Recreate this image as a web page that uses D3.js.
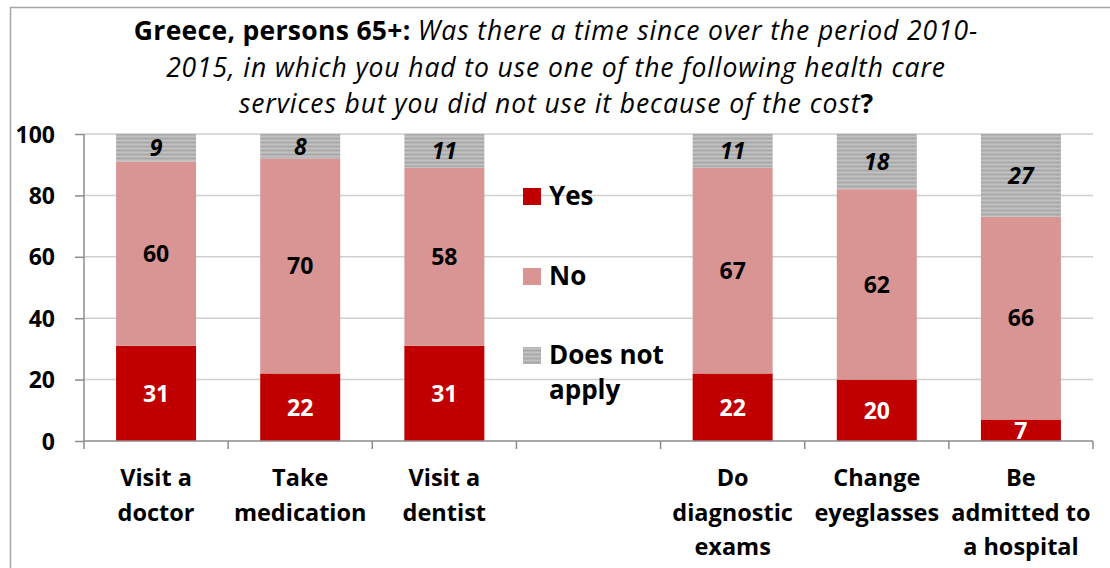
<!DOCTYPE html>
<html>
<head>
<meta charset="utf-8">
<script src="https://cdn.jsdelivr.net/npm/d3@7"></script>
<style>
  html, body { margin: 0; padding: 0; background: #fff; }
  svg { display: block; }
  text { font-family: "Open Sans", Lato, sans-serif; }
</style>
</head>
<body>
<svg id="chart" width="1110" height="568"></svg>
<script>
// Health care services (one empty slot separates the two groups)
const categories = ["Visit a doctor", "Take medication", "Visit a dentist", "",
                    "Do diagnostic exams", "Change eyeglasses", "Be admitted to a hospital"];
const categoryLines = [["Visit a", "doctor"], ["Take", "medication"], ["Visit a", "dentist"], [],
                       ["Do", "diagnostic", "exams"], ["Change", "eyeglasses"], ["Be", "admitted to", "a hospital"]];
const seriesNames = ["Yes", "No", "Does not apply"];
const yesValues = [31, 22, 31, null, 22, 20, 7];
const noValues  = [60, 70, 58, null, 67, 62, 66];
const dnaValues = [9, 8, 11, null, 11, 18, 27];
const yTicks = [0, 20, 40, 60, 80, 100];

const svg = d3.select("#chart");
const W = 1110, H = 568;

// outer frame
svg.append("rect").attr("x", 10.5).attr("y", 7.5).attr("width", W).attr("height", H)
  .attr("fill", "none").attr("stroke", "#a6a6a6").attr("stroke-width", 1.5);

// striped fill for "Does not apply"
const defs = svg.append("defs");
const pat = defs.append("pattern").attr("id", "stripes").attr("patternUnits", "userSpaceOnUse")
  .attr("width", 8).attr("height", 4);
pat.append("rect").attr("width", 8).attr("height", 4).attr("fill", "#c2c2c2");
pat.append("rect").attr("y", 1.5).attr("width", 8).attr("height", 2).attr("fill", "#a8a8a8");

// title
const title = svg.append("text").attr("text-anchor", "middle").attr("font-size", 26.5).attr("fill", "#000");
const l1 = title.append("tspan").attr("x", 556).attr("y", 40);
l1.append("tspan").attr("font-weight", "bold").attr("letter-spacing", 0.3).text("Greece, persons 65+: ");
l1.append("tspan").attr("font-style", "italic").attr("letter-spacing", 0.9).text("Was there a time since over the period 2010-");
title.append("tspan").attr("x", 556).attr("y", 77).attr("font-style", "italic").attr("letter-spacing", 0.9)
  .text("2015, in which you had to use one of the following health care");
const l3 = title.append("tspan").attr("x", 556).attr("y", 113);
l3.append("tspan").attr("font-style", "italic").attr("letter-spacing", 0.9).text("services but you did not use it because of the cost");
l3.append("tspan").attr("font-weight", "bold").text("?");

// scales
const x = d3.scaleBand().domain(d3.range(categories.length)).range([84, 1093]).paddingInner(0.445).paddingOuter(0.2225);
const y = d3.scaleLinear().domain([0, 100]).range([441, 134]);

// gridlines
svg.append("g").selectAll("line").data(yTicks.filter(d => d > 0)).join("line")
  .attr("x1", 84).attr("x2", 1093).attr("y1", d => y(d)).attr("y2", d => y(d))
  .attr("stroke", "#cfcfcf").attr("stroke-width", 1.5);

// stacked data
const rows = categories.map((c, i) => ({ i, Yes: yesValues[i], No: noValues[i], "Does not apply": dnaValues[i] }))
  .filter(r => r.Yes !== null);
const stack = d3.stack().keys(seriesNames)(rows);
const fills = { "Yes": "#c00000", "No": "#d99594", "Does not apply": "url(#stripes)" };
const labelFill = { "Yes": "#fff", "No": "#000", "Does not apply": "#000" };

const layers = svg.append("g").selectAll("g").data(stack).join("g").attr("fill", d => fills[d.key]);
layers.selectAll("rect").data(d => d).join("rect")
  .attr("x", d => x(d.data.i)).attr("width", x.bandwidth())
  .attr("y", d => y(d[1])).attr("height", d => y(d[0]) - y(d[1]));

// value labels
const lab = svg.append("g").attr("text-anchor", "middle").attr("font-size", 23).attr("font-weight", "bold");
stack.forEach(s => {
  lab.selectAll(null).data(s).join("text")
    .attr("x", d => x(d.data.i) + x.bandwidth() / 2)
    .attr("y", d => (y(d[0]) + y(d[1])) / 2)
    .attr("dy", "0.36em")
    .attr("fill", labelFill[s.key])
    .attr("font-style", s.key === "Does not apply" ? "italic" : "normal")
    .text(d => d[1] - d[0]);
});

// y axis
const yAxis = svg.append("g").attr("transform", "translate(84,0)")
  .call(d3.axisLeft(y).tickValues(yTicks).tickSize(9).tickPadding(20));
yAxis.select(".domain").attr("stroke", "#8c8c8c").attr("stroke-width", 1.5).attr("d", "M0,441V134");
yAxis.selectAll(".tick line").attr("stroke", "#8c8c8c").attr("stroke-width", 1.5);
yAxis.selectAll(".tick text").attr("font-size", 23).attr("font-weight", "bold").attr("fill", "#000")
  .attr("font-family", "'Open Sans', sans-serif").attr("dy", "0.35em");

// x axis (boundary ticks between categories)
const xa = svg.append("g");
xa.append("line").attr("x1", 84).attr("x2", 1093).attr("y1", 441).attr("y2", 441)
  .attr("stroke", "#8c8c8c").attr("stroke-width", 1.5);
const step = x.step();
xa.selectAll(".bt").data(d3.range(categories.length + 1)).join("line").attr("class", "bt")
  .attr("x1", d => 84 + d * step).attr("x2", d => 84 + d * step)
  .attr("y1", 441).attr("y2", 449).attr("stroke", "#8c8c8c").attr("stroke-width", 1.5);

// category labels
const cl = svg.append("g").attr("text-anchor", "middle").attr("font-size", 23.5).attr("font-weight", "bold");
categoryLines.forEach((lines, i) => {
  const t = cl.append("text");
  lines.forEach((ln, k) => t.append("tspan").attr("x", x(i) + x.bandwidth() / 2).attr("y", 486 + k * 34.5).text(ln));
});

// legend
const legend = svg.append("g").attr("font-size", 26).attr("font-weight", "bold");
const legendRows = [
  { key: "Yes", y: 196, lines: ["Yes"] },
  { key: "No", y: 276, lines: ["No"] },
  { key: "Does not apply", y: 355, lines: ["Does not", "apply"] }
];
legendRows.forEach(r => {
  legend.append("rect").attr("x", 523).attr("y", r.y - 8).attr("width", 18).attr("height", 17).attr("fill", fills[r.key]);
  const t = legend.append("text");
  r.lines.forEach((ln, k) => t.append("tspan").attr("x", 549).attr("y", r.y + k * 35).attr("dy", "0.36em").text(ln));
});
</script>
</body>
</html>
